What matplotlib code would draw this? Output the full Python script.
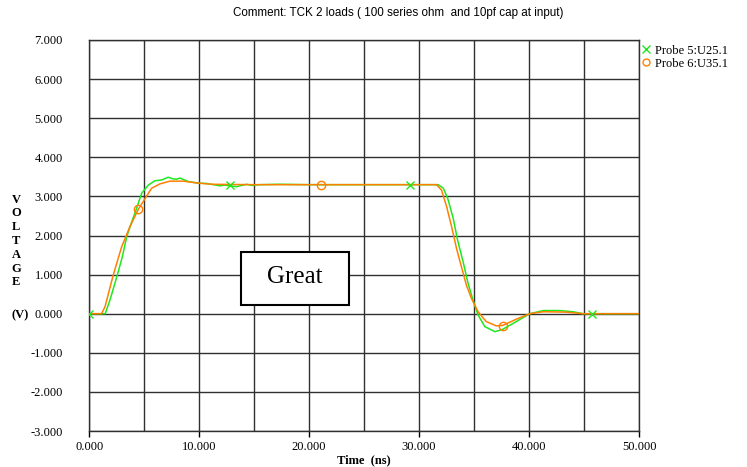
import matplotlib
matplotlib.use("Agg")
from matplotlib import pyplot as plt
from matplotlib.lines import Line2D
from matplotlib.patches import Rectangle
import numpy as np

plt.rcParams['axes.unicode_minus'] = False

# %% data (time in ns, voltage in V)
t_probe5 = [0.0, 1.45, 1.88, 2.55, 3.0, 3.4, 3.8, 4.15, 4.76, 5.37, 5.97, 6.58, 7.18,
            7.6, 7.94, 8.24, 9.0, 9.9, 10.67, 11.3, 11.9, 12.3, 12.8, 13.4, 14.3,
            14.8, 15.5, 17.3, 20.0, 25.0, 29.15, 31.73, 32.2, 32.6, 33.1, 33.5, 34.0,
            34.45, 34.9, 35.36, 35.97, 36.9, 37.6, 38.85, 40.06, 41.3, 42.8, 44.0,
            44.9, 50.0]
v_probe5 = [0.0, 0.0, 0.35, 0.99, 1.45, 1.97, 2.3, 2.57, 3.08, 3.29, 3.40, 3.42, 3.49,
            3.45, 3.44, 3.47, 3.38, 3.34, 3.33, 3.30, 3.27, 3.29, 3.27, 3.25, 3.31,
            3.28, 3.30, 3.31, 3.30, 3.30, 3.30, 3.30, 3.21, 2.95, 2.44, 1.88, 1.33,
            0.78, 0.35, -0.03, -0.33, -0.46, -0.40, -0.20, 0.0, 0.08, 0.08, 0.05,
            0.0, 0.0]

t_probe6 = [0.0, 1.12, 1.43, 2.18, 2.94, 3.7, 4.46, 5.15, 5.67, 6.43, 7.34, 8.55,
            9.9, 11.2, 15.0, 20.0, 25.0, 31.58, 32.04, 32.5, 32.95, 33.4, 33.85,
            34.3, 34.76, 35.36, 36.1, 37.0, 37.6, 38.85, 40.06, 41.3, 43.4, 44.9, 50.0]
v_probe6 = [0.0, 0.0, 0.18, 0.99, 1.71, 2.23, 2.67, 2.98, 3.21, 3.32, 3.39, 3.39,
            3.34, 3.31, 3.30, 3.30, 3.30, 3.30, 3.16, 2.74, 2.23, 1.67, 1.20,
            0.73, 0.39, 0.05, -0.20, -0.31, -0.30, -0.14, 0.0, 0.05, 0.04, 0.0, 0.0]

# symbol positions on each trace
mark_t5 = [0.0, 12.8, 29.15, 45.76]
mark_v5 = [0.0, 3.28, 3.30, 0.0]
mark_t6 = [4.46, 21.03, 37.6]
mark_v6 = [2.67, 3.29, -0.31]

labels = ['Probe 5:U25.1', 'Probe 6:U35.1']
x_ticks = [0, 10, 20, 30, 40, 50]
y_ticks = [-3, -2, -1, 0, 1, 2, 3, 4, 5, 6, 7]

green = '#1ee81e'
orange = '#ff8000'
serif = 'Liberation Serif'

# %% figure
W, H = 747, 467
fig = plt.figure(figsize=(W / 100, H / 100), dpi=100)
ax = fig.add_axes([89.3 / W, 1 - 431 / H, (639 - 89.3) / W, (431 - 40) / H])

ax.plot(t_probe5, v_probe5, color=green, lw=1.1, zorder=3)
ax.plot(t_probe6, v_probe6, color=orange, lw=1.1, zorder=4)
ax.plot(mark_t5, mark_v5, ls='none', marker='x', ms=6, mew=1.0, color=green, zorder=5)
ax.plot(mark_t6, mark_v6, ls='none', marker='o', ms=6, mew=1.0, mfc='none',
        mec=orange, zorder=5)

ax.set_xlim(0, 50)
ax.set_ylim(-3, 7)
ax.set_xticks(x_ticks)
ax.set_xticks(np.arange(5, 50, 10), minor=True)
ax.set_xticklabels(['%.3f' % v for v in x_ticks], fontfamily=serif, fontsize=9)
ax.set_yticks(y_ticks)
ax.set_yticklabels(['%.3f' % v for v in y_ticks], fontfamily=serif, fontsize=9)
ax.tick_params(axis='x', which='major', length=4, width=1, pad=3)
ax.tick_params(axis='x', which='minor', length=0)
ax.tick_params(axis='y', length=0, pad=19)
ax.grid(True, which='both', color='#303030', lw=1.0)
ax.set_axisbelow(True)
for s in ax.spines.values():
    s.set_color('#303030')
    s.set_linewidth(1.0)

ax.set_xlabel('Time  (ns)', fontfamily=serif, fontsize=9, fontweight='bold', labelpad=1)

# "Great" annotation box
ax.add_patch(Rectangle((13.76, 0.22), 9.84, 1.37, facecolor='white', edgecolor='black',
                       lw=1.5, zorder=6))
ax.text(18.68, 0.93, 'Great', fontfamily=serif, fontsize=18, ha='center', va='center',
        zorder=7)

# title and y label
fig.text(398 / W, 1 - 13 / H, 'Comment: TCK 2 loads ( 100 series ohm  and 10pf cap at input)',
         fontfamily='Liberation Sans', fontsize=8.4, ha='center', va='center')
fig.text(16 / W, 1 - 241 / H, '\n'.join('VOLTAGE'), fontfamily=serif, fontsize=9,
         fontweight='bold', ha='center', va='center', linespacing=1.2)
fig.text(20 / W, 1 - 315 / H, '(V)', fontfamily=serif, fontsize=9, fontweight='bold',
         ha='center', va='center')

# legend
handles = [Line2D([], [], ls='none', marker='x', ms=6, color=green),
           Line2D([], [], ls='none', marker='o', ms=5, mfc='none', mec=orange)]
fig.legend(handles, labels, loc='upper left', bbox_to_anchor=(640 / W, 1 - 42 / H),
           frameon=False, prop={'family': serif, 'size': 9}, handlelength=0.6,
           handletextpad=0.4, labelspacing=0.1, borderpad=0.2, borderaxespad=0)

fig.savefig('out.png', dpi=100)
